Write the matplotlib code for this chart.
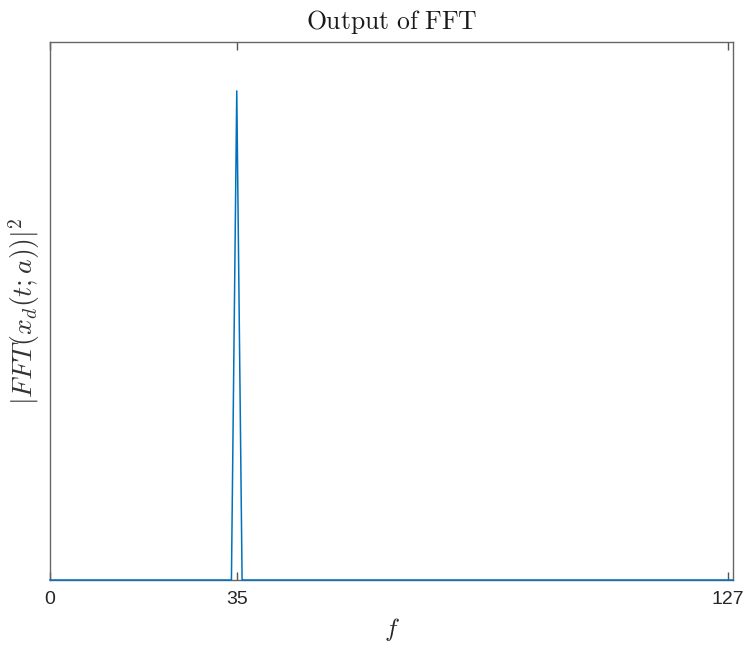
import numpy as np
import matplotlib
matplotlib.use("Agg")
import matplotlib.pyplot as plt

plt.rcParams['mathtext.fontset'] = 'cm'

# Data: normalized power spectrum, single peak at bin 35
freq_bins = list(range(0, 129))
power = [0.0] * 129
power[35] = 1.0
xtick_vals = [0, 35, 127]
xtick_labels = ["0", "35", "127"]

fig = plt.figure(figsize=(7.45, 6.48), dpi=100)
ax = fig.add_axes([50/745, 1-580/648, (733-50)/745, (580-42)/648])

ax.plot(freq_bins, power, color='#0072BD', lw=1.1, zorder=5, clip_on=False)
ax.set_xlim(0, 128)
ax.set_ylim(0, 1.1)

ax.set_xticks(xtick_vals)
ax.set_xticklabels(xtick_labels, fontsize=14, family='Liberation Sans', color='#262626')
ax.set_yticks([])
ax.tick_params(axis='x', direction='in', length=6, width=1, color='#555555', top=True, pad=8)
for s in ax.spines.values():
    s.set_color('#666666')
    s.set_linewidth(1.0)

ax.set_title(r'$\mathrm{Output\ of\ FFT}$', fontsize=18.5, pad=9, color='#1a1a1a')
ax.set_xlabel(r'$f$', fontsize=18, labelpad=6, color='#262626')
ax.set_ylabel(r'$|FFT(x_d(t;a))|^2$', fontsize=20, labelpad=6, color='#333333')

fig.savefig('out.png', dpi=100)
